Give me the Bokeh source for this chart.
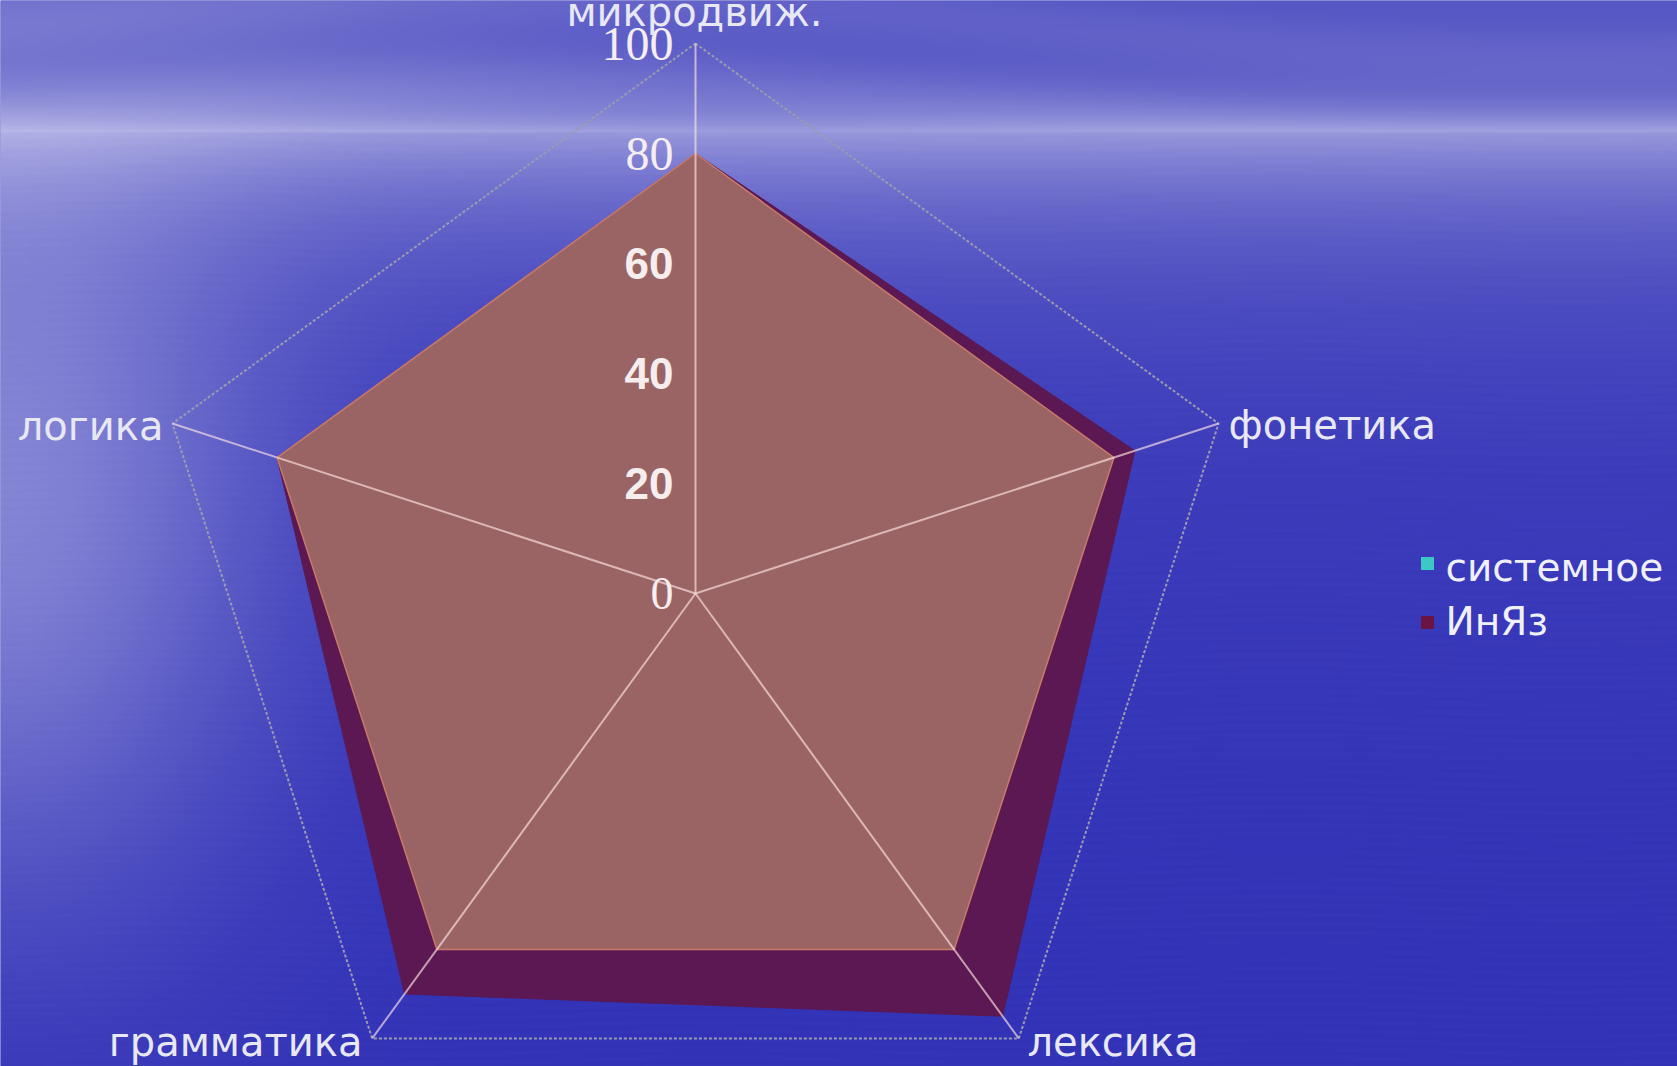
import numpy as np
from bokeh.plotting import figure
from bokeh.models import Range1d, ColumnDataSource
from bokeh.core.properties import value
from bokeh.embed import file_html
from bokeh.resources import INLINE

# ---------------- data ----------------
categories = ["микродвиж.", "фонетика", "лексика", "грамматика", "логика"]
series_names = ["системное", "ИнЯз"]
sistemnoe = [80, 80, 80, 80, 80]
inyaz = [80, 84, 95, 90, 80]
tick_values = [0, 20, 40, 60, 80, 100]
tick_labels = ["0", "20", "40", "60", "80", "100"]
r_max = 100

# ---------------- layout / style ----------------
W, H = 1677, 1066
S = 5.5                 # pixels per data unit
CX, CY = 695, 593       # centre of the radar in pixels
legend_colors = ["#3cc8c4", "#6a1444"]
tick_fonts = ["Liberation Serif", "Liberation Sans", "Liberation Sans",
              "Liberation Sans", "Liberation Serif", "Liberation Serif"]
tick_sizes = ["46px", "44px", "44px", "44px", "48px", "48px"]
tick_styles = ["normal", "bold", "bold", "bold", "normal", "normal"]
# label anchor in pixels (x, y-centre) and alignment
label_pos = [(694, 11, "center"), (1228, 424, "left"), (1027, 1041, "left"),
             (362, 1041, "right"), (163, 425, "right")]

x_range = Range1d(-CX / S, (W - CX) / S)
y_range = Range1d((CY - H) / S, CY / S)


def dx(px):
    return (px - CX) / S


def dy(py):
    return (CY - py) / S


p = figure(width=W, height=H, x_range=x_range, y_range=y_range,
           x_axis_location=None, y_axis_location=None,
           toolbar_location=None, output_backend="svg", min_border=0,
           background_fill_color="#3a3ab8", border_fill_color="#3a3ab8")
p.grid.visible = False
p.outline_line_color = None

# ---------------- background (sea picture imitation) ----------------
nx, ny = W // 3, H // 3
gx = np.linspace(0, W, nx)
gy = np.linspace(0, H, ny)
X, Y = np.meshgrid(gx, gy)
HZ = 130.0
sky = (0.29 + 0.40 * np.exp(-(HZ - Y) / 32.0)
       + 0.025 * np.sin(Y * 0.07 + 2.0 * np.sin(X * 0.003))
       + 0.14 * np.exp(-(X / 500) ** 2))
sea = (0.05 + 0.45 * np.exp(-(Y - HZ) / 90.0) + 0.15 * np.exp(-(Y - HZ) / 400.0)
       + 0.42 * np.exp(-(X / 260) ** 2) * np.exp(-((Y - 520) / 380) ** 2)
       + 0.006 * np.sin(Y * 0.7 + 2.0 * np.sin(X * 0.011)))
L = np.where(Y < HZ, sky, sea)
L = np.clip(L, 0, 1)
base = np.array([40, 40, 180], dtype=float)
light = np.array([212, 212, 242], dtype=float)
rgb = base[None, None, :] + (light - base)[None, None, :] * L[:, :, None]
img = np.empty((ny, nx), dtype=np.uint32)
view = img.view(dtype=np.uint8).reshape((ny, nx, 4))
view[:, :, 0:3] = np.flipud(rgb).astype(np.uint8)
view[:, :, 3] = 255
p.image_rgba(image=[img], x=x_range.start, y=y_range.start,
             dw=W / S, dh=H / S)

# ---------------- radar geometry ----------------
n = len(categories)
ang = np.deg2rad(90 - 360.0 / n * np.arange(n))
cosA, sinA = np.cos(ang), np.sin(ang)

# outer grid pentagon (100)
ox = list(r_max * cosA) + [r_max * cosA[0]]
oy = list(r_max * sinA) + [r_max * sinA[0]]
p.line(ox, oy, line_color="#9a9ab0", line_width=2, line_dash="3 2")

# series polygons
inyaz_arr = np.array(inyaz, dtype=float)
sis_arr = np.array(sistemnoe, dtype=float)
p.patch(inyaz_arr * cosA, inyaz_arr * sinA, fill_color="#5c1852",
        line_color="#5c1852", line_width=1)
p.patch(sis_arr * cosA, sis_arr * sinA, fill_color="#9b6464",
        line_color="#c87a68", line_width=1.5)

# spokes
p.segment(x0=np.zeros(n), y0=np.zeros(n), x1=r_max * cosA, y1=r_max * sinA,
          line_color="#ffe4e4", line_alpha=0.65, line_width=2)

# radial tick labels
tsrc = ColumnDataSource(dict(x=[dx(673)] * len(tick_values), y=tick_values,
                             text=tick_labels, font=tick_fonts, size=tick_sizes,
                             style=tick_styles))
p.text(x="x", y="y", text="text", source=tsrc, text_font="font",
       text_font_size="size", text_font_style="style",
       text_align="right", text_baseline="middle", text_color="#f6eeee")

# category labels
for i, cat in enumerate(categories):
    lx, ly, al = label_pos[i]
    p.text(x=[dx(lx)], y=[dy(ly)], text=[cat], text_align=al,
           text_baseline="middle", text_font=value("DejaVu Sans"),
           text_font_size="40px", text_color="#e8e8f2")

# legend (manual)
p.scatter(x=[dx(1427)] * 2, y=[dy(563), dy(622)], marker="square", size=13,
          fill_color=legend_colors, line_color=None)
p.text(x=[dx(1445)] * 2, y=[dy(567), dy(621)], text=series_names,
       text_align="left", text_baseline="middle",
       text_font=value("DejaVu Sans"), text_font_size="39px",
       text_color="#f0f0f8")

open("out.html", "w").write(file_html(p, INLINE))
